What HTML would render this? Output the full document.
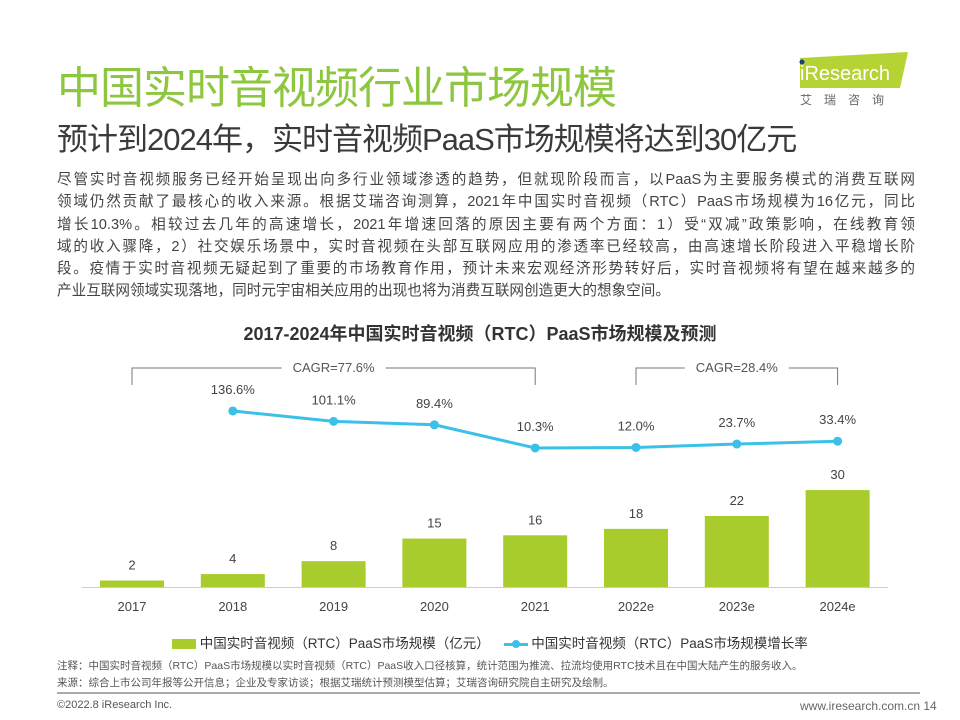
<!DOCTYPE html>
<html><head><meta charset="utf-8">
<style>
body{margin:0;width:960px;height:720px;background:#fff;overflow:hidden;font-family:"Liberation Sans","Noto Sans CJK SC",sans-serif;position:relative}
.a{position:absolute;white-space:nowrap}
.ln{text-align:justify;text-align-last:justify;white-space:nowrap;height:22.3px;overflow:visible}
.ln.last{text-align-last:left}
</style></head><body>
<div class="a" style="left:57px;top:52px;font-size:44px;color:#8dc63f;letter-spacing:-1px">中国实时音视频行业市场规模</div>
<div class="a" style="left:57px;top:114px;font-size:31px;color:#3a3a3a;letter-spacing:-1px">预计到2024年，实时音视频PaaS市场规模将达到30亿元</div>
<div class="a" style="left:770px;top:50px;width:140px;height:60px">
 <svg width="140" height="60"><polygon points="30,8 138,2 130,38 30,38" fill="#b5d334"/><circle cx="32" cy="12" r="2.5" fill="#1a3c8a"/>
 <text x="30" y="30" font-size="20" fill="#fff" font-family="Liberation Sans">iResearch</text>
 <text x="30" y="54" font-size="12" fill="#666" letter-spacing="12">艾瑞咨询</text></svg></div>
<div class="a" style="left:57px;top:169px;width:858px;white-space:normal;font-size:14.6px;line-height:22.3px;color:#444">
<div class="ln">尽管实时音视频服务已经开始呈现出向多行业领域渗透的趋势，但就现阶段而言，以PaaS为主要服务模式的消费互联网</div>
<div class="ln">领域仍然贡献了最核心的收入来源。根据艾瑞咨询测算，2021年中国实时音视频（RTC）PaaS市场规模为16亿元，同比</div>
<div class="ln">增长10.3%。相较过去几年的高速增长，2021年增速回落的原因主要有两个方面：1）受“双减”政策影响，在线教育领</div>
<div class="ln">域的收入骤降，2）社交娱乐场景中，实时音视频在头部互联网应用的渗透率已经较高，由高速增长阶段进入平稳增长阶</div>
<div class="ln">段。疫情于实时音视频无疑起到了重要的市场教育作用，预计未来宏观经济形势转好后，实时音视频将有望在越来越多的</div>
<div class="ln last">产业互联网领域实现落地，同时元宇宙相关应用的出现也将为消费互联网创造更大的想象空间。</div>
</div>
<div class="a" style="left:0;width:960px;text-align:center;top:320px;font-size:18px;font-weight:bold;color:#333">2017-2024年中国实时音视频（RTC）PaaS市场规模及预测</div>
<svg id="chart" class="a" style="left:0;top:0" width="960" height="720"></svg>
<div class="a" style="left:172px;top:632px;font-size:13.5px;color:#333">
<span style="display:inline-block;width:24px;height:10px;background:#a8cc2c;vertical-align:middle"></span> 中国实时音视频（RTC）PaaS市场规模（亿元）
<span style="display:inline-block;width:24px;height:3px;background:#3bc0e8;vertical-align:middle;margin-left:10px;position:relative"><span style="position:absolute;left:8px;top:-3px;width:8px;height:8px;border-radius:50%;background:#3bc0e8"></span></span> 中国实时音视频（RTC）PaaS市场规模增长率</div>
<div class="a" style="left:57px;top:658px;font-size:10.5px;color:#555">注释：中国实时音视频（RTC）PaaS市场规模以实时音视频（RTC）PaaS收入口径核算，统计范围为推流、拉流均使用RTC技术且在中国大陆产生的服务收入。</div>
<div class="a" style="left:57px;top:675px;font-size:10.5px;color:#555">来源：综合上市公司年报等公开信息；企业及专家访谈；根据艾瑞统计预测模型估算；艾瑞咨询研究院自主研究及绘制。</div>
<div class="a" style="left:57px;top:692px;width:863px;height:2px;background:#aaa"></div>
<div class="a" style="left:57px;top:699px;font-size:11px;color:#555">©2022.8 iResearch Inc.</div>
<div class="a" style="left:800px;top:699px;font-size:12px;color:#666">www.iresearch.com.cn 14</div>
<script>
const categories=["2017","2018","2019","2020","2021","2022e","2023e","2024e"];
const sizes=[2,4,8,15,16,18,22,30];
const growth=[null,136.6,101.1,89.4,10.3,12.0,23.7,33.4];
const growthLabels=["","136.6%","101.1%","89.4%","10.3%","12.0%","23.7%","33.4%"];
const cagrLabels=["CAGR=77.6%","CAGR=28.4%"];
const svg=document.getElementById('chart');const NS='http://www.w3.org/2000/svg';
function mk(t,a,txt){const e=document.createElementNS(NS,t);for(const k in a)e.setAttribute(k,a[k]);if(txt!=null)e.textContent=txt;svg.appendChild(e);return e;}
const x=i=>132+i*100.8;
const yb=v=>587-v*3.23;
const yl=v=>451-v*0.293;
mk('line',{x1:82,x2:888,y1:587.5,y2:587.5,stroke:'#ccc','stroke-width':1});
sizes.forEach((v,i)=>{
 const r=mk('rect',{x:x(i)-32,y:yb(v),width:64,height:587-yb(v),fill:'#a8cc2c'});
 
 
 const t=mk('text',{x:x(i),y:yb(v)-11,'text-anchor':'middle','font-size':13,fill:'#444'},v);
 
 
 const c=mk('text',{x:x(i),y:611,'text-anchor':'middle','font-size':13,fill:'#444'},categories[i]);
 
 
});
let pts=[];growth.forEach((v,i)=>{if(v!=null)pts.push(x(i)+','+yl(v));});
const pl=mk('polyline',{points:pts.join(' '),fill:'none',stroke:'#3bc0e8','stroke-width':3});


growth.forEach((v,i)=>{if(v==null)return;
 const c=mk('circle',{cx:x(i),cy:yl(v),r:4.5,fill:'#3bc0e8'});
 
 
 const t=mk('text',{x:x(i),y:Math.min(yl(v)-17,432),'text-anchor':'middle','font-size':13,fill:'#444'},growthLabels[i]);
 
 
});
[[0,4],[5,7]].forEach((b,k)=>{
 const x1=x(b[0]),x2=x(b[1]),m=(x1+x2)/2;
 const p=mk('path',{d:`M${x1},385V368H${m-52}M${m+52},368H${x2}V385`,fill:'none',stroke:'#777','stroke-width':1});
 
 
 const t=mk('text',{x:m,y:372,'text-anchor':'middle','font-size':13,fill:'#555'},cagrLabels[k]);
 
 
});
</script>
</body></html>
